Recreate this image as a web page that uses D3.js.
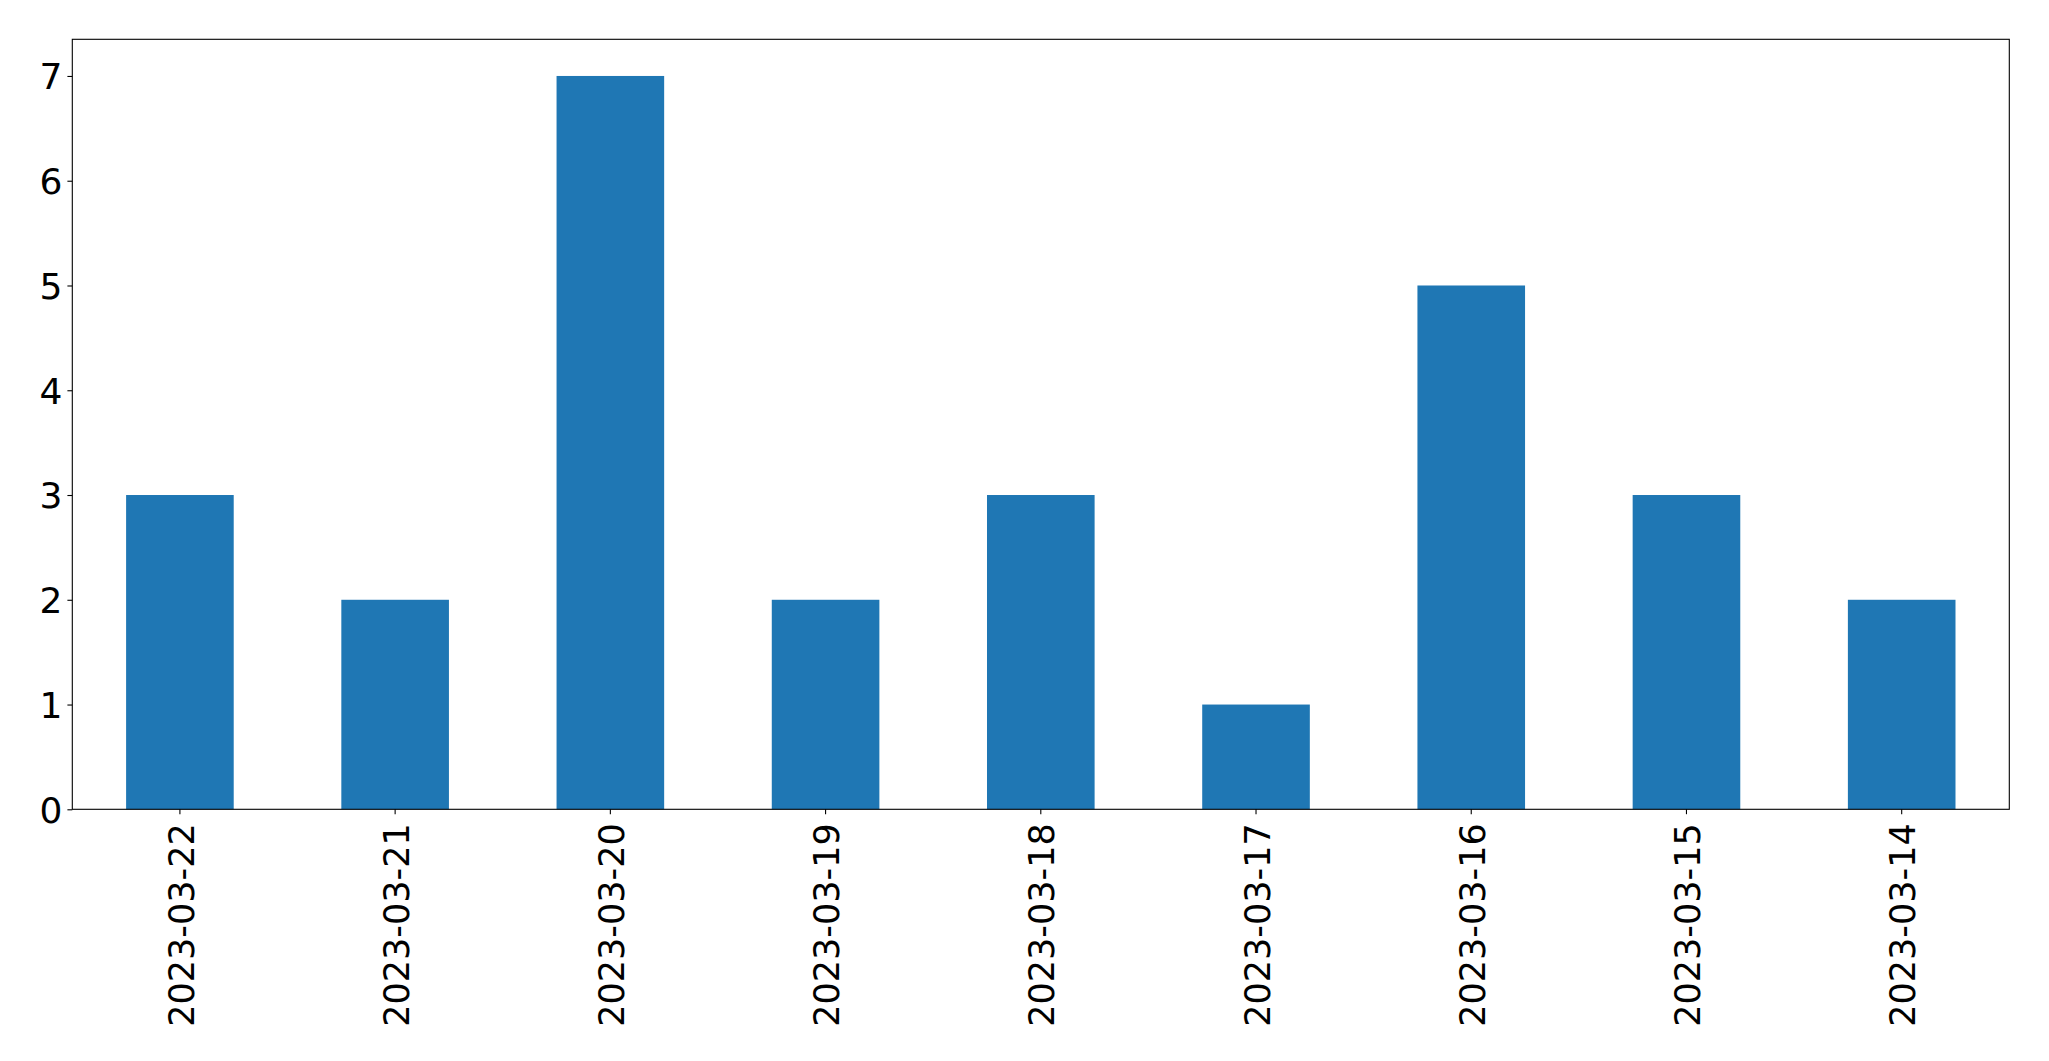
<!DOCTYPE html>
<html><head><meta charset="utf-8">
<script src="https://cdn.jsdelivr.net/npm/d3@7"></script>
<style>
html,body{margin:0;padding:0;background:#fff;}
svg{display:block;}
text{font-family:"DejaVu Sans",sans-serif;fill:#000;}
</style></head>
<body>
<script>
const categories = ["2023-03-22","2023-03-21","2023-03-20","2023-03-19","2023-03-18","2023-03-17","2023-03-16","2023-03-15","2023-03-14"];
const values = [3,2,7,2,3,1,5,3,2];
const yTicks = [0,1,2,3,4,5,6,7];

const W = 2049, H = 1061;
const m = {left:72.3, top:39.3, right:2049-2009.3, bottom:1061-809.3};
const iw = W - m.left - m.right, ih = H - m.top - m.bottom;

const svg = d3.select("body").append("svg").attr("width", W).attr("height", H);
const g = svg.append("g").attr("transform", `translate(${m.left},${m.top})`);

const x = d3.scaleBand().domain(categories).range([0, iw]).paddingInner(0.5).paddingOuter(0.25);
const y = d3.scaleLinear().domain([0, 7.35]).range([ih, 0]);

g.selectAll("rect.bar").data(values).join("rect")
  .attr("class","bar")
  .attr("x", (d,i) => x(categories[i]))
  .attr("width", x.bandwidth())
  .attr("y", d => y(d))
  .attr("height", d => y(0) - y(d))
  .attr("fill", "#1f77b4");

const yAxis = g.append("g").call(d3.axisLeft(y).tickValues(yTicks).tickFormat(d3.format("d")).tickSize(4.9).tickPadding(4.9));
yAxis.select(".domain").remove();
yAxis.selectAll("line").attr("stroke","#000").attr("stroke-width",1.1);
yAxis.selectAll("text").style("font-size", "36px").attr("dy","0.36em");

const xAxis = g.append("g").attr("transform",`translate(0,${ih})`).call(d3.axisBottom(x).tickSize(4.9).tickPadding(0));
xAxis.select(".domain").remove();
xAxis.selectAll("line").attr("stroke","#000").attr("stroke-width",1.1);
xAxis.selectAll("text")
  .style("font-size", "35px")
  .attr("text-anchor","end")
  .attr("transform","translate(1,14) rotate(-90)")
  .attr("x",0).attr("y",0).attr("dy","0.36em");

g.append("rect").attr("x",0).attr("y",0).attr("width",iw).attr("height",ih)
  .attr("fill","none").attr("stroke","#000").attr("stroke-width",1.1);
</script>
</body></html>
